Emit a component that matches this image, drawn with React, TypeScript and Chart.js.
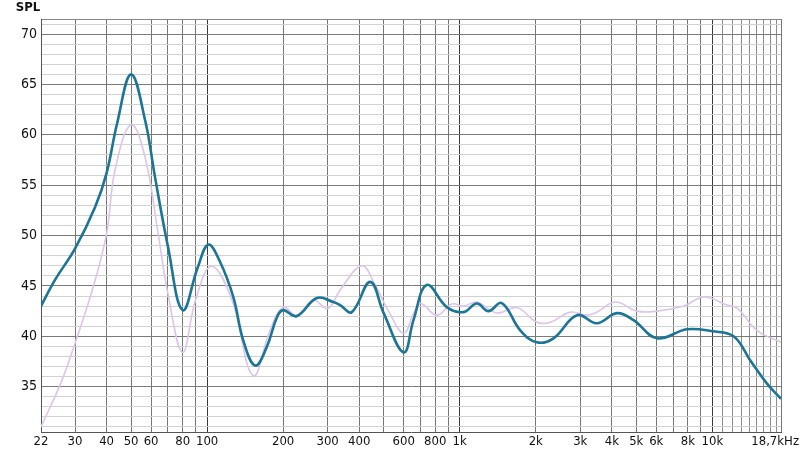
import React, { useEffect, useRef } from "react";
import { Chart, registerables } from "chart.js";

Chart.register(...registerables);

// Blue (measured) curve
const blueFreq = [22, 25, 30, 36, 40, 44, 50, 57, 62, 70, 80, 92, 101, 112, 127, 139, 155, 172, 189, 200, 226, 272, 316, 336, 374, 442, 500, 600, 656, 741, 889, 1035, 1168, 1300, 1468, 1736, 2020, 2351, 2911, 3493, 4193, 4877, 6037, 7935, 10000, 12140, 14140, 16460, 18700];
const blueSpl = [43.0, 45.6, 48.7, 52.8, 56.2, 61.1, 66.0, 61.3, 56.0, 48.9, 42.6, 46.9, 49.1, 47.5, 43.9, 39.6, 37.1, 38.9, 41.9, 42.6, 42.0, 43.8, 43.4, 43.1, 42.4, 45.4, 42.3, 38.4, 41.6, 45.1, 42.9, 42.4, 43.25, 42.5, 43.3, 40.6, 39.4, 39.8, 42.1, 41.3, 42.3, 41.6, 39.8, 40.7, 40.5, 40.0, 37.6, 35.3, 33.8];

// Light purple (reference) curve
const purpleFreq = [22, 26.6, 30, 35.4, 40, 43.2, 50, 56.8, 64, 70, 80, 90, 104, 125, 152, 177.5, 200, 226, 263, 300, 336, 410, 460, 520, 600, 656, 700, 812, 930, 1035, 1168, 1320, 1430, 1684, 2020, 2290, 2740, 3193, 3493, 4130, 5030, 6037, 7700, 9250, 11430, 12600, 15000, 18700];
const purpleSpl = [31.0, 35.6, 39.3, 44.9, 50.2, 56.5, 61.0, 57.8, 50.2, 44.2, 38.4, 43.6, 46.95, 43.7, 36.1, 40.6, 42.9, 42.1, 43.6, 42.75, 44.6, 47.0, 45.2, 42.6, 40.3, 42.25, 43.25, 42.1, 43.2, 43.0, 43.4, 42.6, 42.3, 42.85, 41.4, 41.4, 42.4, 42.1, 42.4, 43.4, 42.5, 42.5, 43.0, 43.9, 43.1, 42.75, 40.6, 39.4];

// X grid lines and labels
const xGrid = [22, 30, 40, 50, 60, 70, 80, 90, 100, 200, 300, 400, 500, 600, 700, 800, 900, 1000, 2000, 3000, 4000, 5000, 6000, 7000, 8000, 9000, 10000, 11000, 12000, 13000, 14000, 15000, 16000, 17000, 18000, 18700];
const xLabelValues = [22, 30, 40, 50, 60, 80, 100, 200, 300, 400, 600, 800, 1000, 2000, 3000, 4000, 5000, 6000, 8000, 10000, 18700];
const xLabelTexts = ["22", "30", "40", "50", "60", "80", "100", "200", "300", "400", "600", "800", "1k", "2k", "3k", "4k", "5k", "6k", "8k", "10k", "18,7kHz\u2003"];

// Y grid: 1 dB steps, labels every 5 dB
const yMin = 30.5;
const yMax = 71.5;
const yGrid = [31, 32, 33, 34, 35, 36, 37, 38, 39, 40, 41, 42, 43, 44, 45, 46, 47, 48, 49, 50, 51, 52, 53, 54, 55, 56, 57, 58, 59, 60, 61, 62, 63, 64, 65, 66, 67, 68, 69, 70, 71, 71.5];
const yLabelValues = [35, 40, 45, 50, 55, 60, 65, 70];

const FONT = "'Liberation Sans Narrow', 'DejaVu Sans Condensed', 'Noto Sans', sans-serif";

const titlePlugin = {
  id: "splTitle",
  afterDraw(chart: any) {
    const ctx = chart.ctx;
    ctx.save();
    ctx.font = `bold 13px ${FONT}`;
    ctx.fillStyle = "#111";
    ctx.textAlign = "center";
    ctx.textBaseline = "middle";
    ctx.fillText("SPL", 28, 8);
    ctx.restore();
  },
};

export default function App() {
  const ref = useRef<HTMLCanvasElement | null>(null);

  useEffect(() => {
    document.body.style.margin = "0";
    const canvas = ref.current;
    if (!canvas) return;
    const blueData = blueFreq.map((f, i) => ({ x: f, y: blueSpl[i] }));
    const purpleData = purpleFreq.map((f, i) => ({ x: f, y: purpleSpl[i] }));

    const chart = new Chart(canvas, {
      type: "line",
      data: {
        datasets: [
          {
            data: blueData,
            borderColor: "#1b7597",
            borderWidth: 2.6,
            pointRadius: 0,
            tension: 0.4,
            fill: false,
            order: 0,
          },
          {
            data: purpleData,
            borderColor: "#dcc4ea",
            borderWidth: 1.6,
            pointRadius: 0,
            tension: 0.4,
            fill: false,
            order: 1,
          },
        ],
      },
      options: {
        animation: false,
        responsive: true,
        maintainAspectRatio: false,
        layout: { padding: { top: 19, right: 19, left: 0, bottom: 0 } },
        plugins: { legend: { display: false }, tooltip: { enabled: false } },
        scales: {
          x: {
            type: "logarithmic",
            min: 22,
            max: 18700,
            afterBuildTicks: (scale: any) => {
              scale.ticks = xGrid.map((v) => ({ value: v }));
            },
            afterFit: (scale: any) => {
              scale.height = 25;
              scale.paddingRight = 0;
              scale.paddingLeft = 0;
            },
            grid: {
              drawTicks: false,
              lineWidth: 1,
              color: (c: any) => {
                const v = c.tick ? c.tick.value : 0;
                if (v === 100 || v === 1000 || v === 10000) return "#3a3a3a";
                if (v > 10000 && v < 18700) return "#8c8c8c";
                return "#767676";
              },
            },
            border: { display: true, color: "#555" },
            ticks: {
              autoSkip: false,
              maxRotation: 0,
              minRotation: 0,
              padding: 2,
              color: "#111",
              font: { family: FONT, size: 13 },
              callback: (value: any) => {
                const idx = xLabelValues.indexOf(Number(value));
                return idx >= 0 ? xLabelTexts[idx] : "";
              },
            },
          },
          y: {
            type: "linear",
            min: yMin,
            max: yMax,
            afterBuildTicks: (scale: any) => {
              scale.ticks = yGrid.map((v) => ({ value: v }));
            },
            afterFit: (scale: any) => {
              scale.width = 41;
              scale.paddingTop = 0;
              scale.paddingBottom = 0;
            },
            grid: {
              drawTicks: false,
              lineWidth: 1,
              color: (c: any) => {
                const v = c.tick ? c.tick.value : 0;
                if (v === yMax) return "#888";
                return yLabelValues.indexOf(v) >= 0 ? "#7a7a7a" : "#d2d2d2";
              },
            },
            border: { display: true, color: "#555" },
            ticks: {
              autoSkip: false,
              padding: 4,
              color: "#111",
              font: { family: FONT, size: 14 },
              callback: (value: any) => (yLabelValues.indexOf(Number(value)) >= 0 ? String(value) : ""),
            },
          },
        },
      },
      plugins: [titlePlugin],
    });
    return () => chart.destroy();
  }, []);

  return (
    <div style={{ position: "relative", width: 800, height: 457 }}>
      <canvas ref={ref} />
    </div>
  );
}
